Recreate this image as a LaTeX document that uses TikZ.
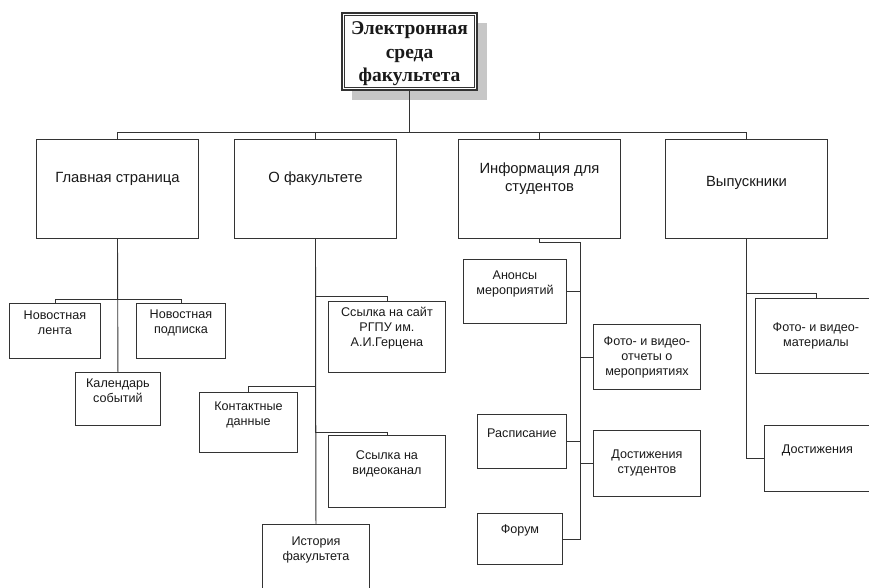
\documentclass[tikz,border=0pt]{standalone}
\usepackage{fontspec}
\setmainfont{Liberation Sans}
\newfontfamily\serifroot{Liberation Serif}
\usetikzlibrary{positioning,shadows}

\begin{document}
\begin{tikzpicture}[
    x=1pt, y=-1pt,
    line width=0.9pt, draw=black!80,
    every node/.style={align=center, inner sep=0pt, text=black!90},
    root/.style={draw, line width=1.6pt, fill=white, minimum width=135pt, minimum height=77pt,
        drop shadow={shadow xshift=10pt, shadow yshift=-10pt, fill=black!22, opacity=1}},
    main/.style={draw, minimum width=162pt, minimum height=99pt},
    leaf/.style={draw, anchor=north west},
    roottext/.style={font=\serifroot\bfseries\fontsize{19.5}{23.5}\selectfont},
    maintext/.style={font=\fontsize{14.8}{18}\selectfont},
    leaftext/.style={font=\fontsize{12.6}{15}\selectfont}
]
% Структура электронной среды факультета
\clip (0,0) rectangle (869,587);
\useasboundingbox (0,0) rectangle (869,587);

\node[root] (root) at (409.5,51.5) {};
\draw[line width=0.7pt] ([shift={(3.5,3.5)}]root.north west) rectangle ([shift={(-3.5,-3.5)}]root.south east);
\node[roottext] (root-t) at ([yshift=-2.5pt]root.center) {Электронная\\среда\\факультета};

% уровень 1
\node[main] (glav) at (117.5,188.5) {};
\node[main] (ofak) at (315.5,188.5) {};
\node[main] (info) at (539.5,188.5) {};
\node[main] (vyp)  at (746.5,188.5) {};
\node[maintext] (glav-t) at ([yshift=9.5pt]glav.center) {Главная страница};
\node[maintext] (ofak-t) at ([yshift=9.5pt]ofak.center) {О факультете};
\node[maintext] (info-t) at ([yshift=9.5pt]info.center) {Информация для\\студентов};
\node[maintext] (vyp-t)  at ([yshift=5.5pt]vyp.center) {Выпускники};

\foreach \n in {glav,ofak,info,vyp}
    \draw (\n.north) -- ++(0,-6) -| (root.south);

% Главная страница
\node[leaf, minimum width=91pt, minimum height=55pt] (lenta) at (9,303) {};
\node[leaf, minimum width=89pt, minimum height=55pt] (podp) at (136,303) {};
\node[leaf, minimum width=85pt, minimum height=53pt] (kal) at (75,372) {};
\node[leaftext] (lenta-t) at ([yshift=8pt]lenta.center) {Новостная\\лента};
\node[leaftext] (podp-t) at ([yshift=8pt]podp.center) {Новостная\\подписка};
\node[leaftext] (kal-t) at ([yshift=8.5pt]kal.center) {Календарь\\событий};

\draw (lenta.north) -- ++(0,-4) -| (glav.south);
\draw (podp.north) -- ++(0,-4) -| (glav.south);
\draw (kal.north) -- (glav.south);

% О факультете
\node[leaf, minimum width=117pt, minimum height=71pt] (sajt) at (328,301) {};
\node[leaf, minimum width=98pt, minimum height=60pt] (kont) at (199,392) {};
\node[leaf, minimum width=117pt, minimum height=72pt] (video) at (328,435) {};
\node[leaf, minimum width=107pt, minimum height=80pt] (ist) at (262,524) {};
\node[leaftext] (sajt-t) at ([yshift=8.5pt]sajt.center) {Ссылка на сайт\\РГПУ им.\\А.И.Герцена};
\node[leaftext] (kont-t) at ([yshift=8pt]kont.center) {Контактные\\данные};
\node[leaftext] (video-t) at ([yshift=7.5pt]video.center) {Ссылка на\\видеоканал};
\node[leaftext] (ist-t) at ([yshift=14.5pt]ist.center) {История\\факультета};

\draw (sajt.north) -- ++(0,-5) -| (ofak.south);
\draw (kont.north) -- ++(0,-6) -| (ofak.south);
\draw (video.north) -- ++(0,-3) -| (ofak.south);
\draw (ist.north) -- (ofak.south);

% Информация для студентов
\node[leaf, minimum width=103pt, minimum height=64pt] (anons) at (463,259) {};
\node[leaf, minimum width=107pt, minimum height=65pt] (foto) at (593,324) {};
\node[leaf, minimum width=89pt, minimum height=54pt] (rasp) at (477,414) {};
\node[leaf, minimum width=107pt, minimum height=66pt] (dost) at (593,430) {};
\node[leaf, minimum width=85pt, minimum height=51pt] (forum) at (477,513) {};
\node[leaftext] (anons-t) at ([yshift=7.5pt]anons.center) {Анонсы\\мероприятий};
\node[leaftext] (foto-t) at (foto.center) {Фото- и видео-\\отчеты о\\мероприятиях};
\node[leaftext] (rasp-t) at ([yshift=8pt]rasp.center) {Расписание};
\node[leaftext] (dost-t) at (dost.center) {Достижения\\студентов};
\node[leaftext] (forum-t) at ([yshift=8.5pt]forum.center) {Форум};

\coordinate (infoj) at (580.5,242);
\draw (info.south) |- (infoj) -- (infoj |- forum.east);
\draw (anons.east) -- (anons.east -| infoj);
\draw (rasp.east) -- (rasp.east -| infoj);
\draw (forum.east) -- (forum.east -| infoj);
\draw (foto.west) -- (foto.west -| infoj);
\draw (dost.west) -- (dost.west -| infoj);

% Выпускники
\node[leaf, minimum width=121pt, minimum height=75pt] (fotom) at (755,298) {};
\node[leaf, minimum width=106pt, minimum height=66pt] (dostv) at (764,425) {};
\node[leaftext] (fotom-t) at (fotom.center) {Фото- и видео-\\материалы};
\node[leaftext] (dostv-t) at ([yshift=8pt]dostv.center) {Достижения};

\draw (fotom.north) -- ++(0,-5) -| (vyp.south);
\draw (vyp.south) |- (dostv.west);
\end{tikzpicture}
\end{document}
